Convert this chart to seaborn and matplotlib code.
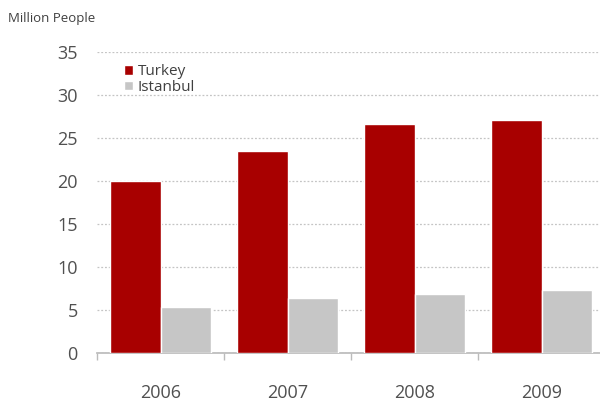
import matplotlib
matplotlib.use("Agg")
import matplotlib.pyplot as plt
import seaborn as sns
import pandas as pd

years = ["2006", "2007", "2008", "2009"]
turkey = [20.0, 23.5, 26.6, 27.1]
istanbul = [5.4, 6.4, 6.9, 7.3]
series = ["Turkey", "Istanbul"]
colors = ["#A80000", "#C6C6C6"]

df = pd.DataFrame({
    "year": years * 2,
    "value": turkey + istanbul,
    "series": [series[0]] * len(years) + [series[1]] * len(years),
})

sns.set_theme(style="white")
plt.rcParams["font.family"] = ["Open Sans", "DejaVu Sans"]

fig = plt.figure(figsize=(6, 4.03), dpi=100)
ax = fig.add_axes([0.162, 0.124, 0.838, 0.747])

sns.barplot(data=df, x="year", y="value", hue="series", palette=colors,
            width=0.8, ax=ax, legend=True, zorder=3, saturation=1)

ax.set_ylim(0, 35)
ax.set_xlim(-0.5, 3.46)
ax.set_yticks(range(0, 36, 5))
ax.yaxis.grid(True, linestyle=(0, (1.5, 1.5)), color="#C4C4C4", linewidth=0.9, zorder=0)
ax.set_xlabel("")
ax.set_ylabel("")
for s in ["top", "right", "left"]:
    ax.spines[s].set_visible(False)
ax.spines["bottom"].set_color("#BBBBBB")
ax.tick_params(axis="y", length=0, labelsize=13, labelcolor="#505050", pad=14)
ax.tick_params(axis="x", length=0, labelsize=13, labelcolor="#505050", pad=22)
ax.set_xticks([0, 1, 2, 3], minor=False)
ax.set_xticks([-0.5, 0.5, 1.5, 2.5], minor=True)
ax.tick_params(axis="x", which="minor", length=5, color="#BBBBBB", direction="out", bottom=True)

leg = ax.legend(loc="upper left", bbox_to_anchor=(0.035, 0.99), frameon=False,
                fontsize=11, handlelength=0.6, handleheight=0.6, handletextpad=0.3,
                labelspacing=0.05, borderaxespad=0.2)
for t in leg.get_texts():
    t.set_color("#404040")

fig.text(0.013, 0.945, "Million People", fontsize=9.5, color="#404040")

fig.savefig("out.png", dpi=100)
